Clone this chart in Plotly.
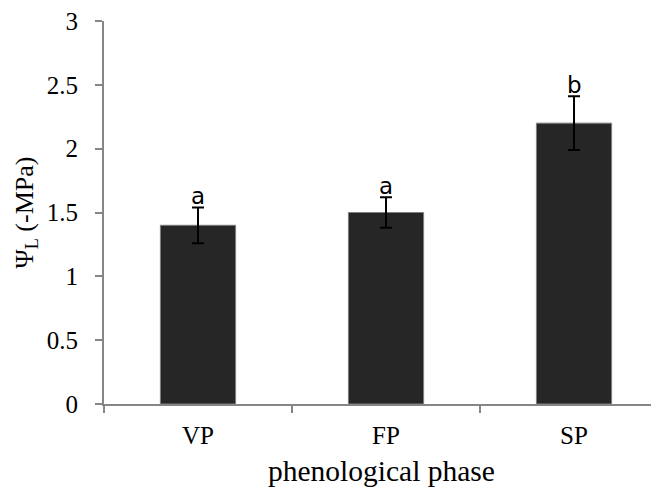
import plotly.graph_objects as go

categories = ["VP", "FP", "SP"]
values = [1.40, 1.50, 2.20]
errors = [0.14, 0.12, 0.21]
letters = ["a", "a", "b"]
y_ticks = [0, 0.5, 1, 1.5, 2, 2.5, 3]

fig = go.Figure()
fig.add_trace(go.Bar(
    x=categories, y=values,
    marker=dict(color="#262626", line=dict(color="#7f7f7f", width=1)),
    error_y=dict(type="data", array=errors, visible=True, color="black", thickness=2, width=6),
    showlegend=False,
))

for c, v, e, t in zip(categories, values, errors, letters):
    fig.add_annotation(x=c, y=v + e, text=t, showarrow=False, yanchor="bottom",
                       yshift=-4, font=dict(family="DejaVu Sans", size=23, color="black"))

axis_color = "#868686"
fig.update_layout(
    width=651, height=487,
    margin=dict(l=96, r=0, t=11, b=91),
    plot_bgcolor="white", paper_bgcolor="white",
    bargap=0.6,
    font=dict(family="Liberation Serif", color="black"),
    xaxis=dict(
        type="category", range=[-0.5, 2.452],
        showline=True, linecolor=axis_color, linewidth=2,
        ticks="outside", tickson="boundaries", ticklen=7, tickcolor=axis_color, tickwidth=2,
        tickfont=dict(size=25, family="Liberation Serif"),
        ticklabelstandoff=8, ticklabeloverflow="allow",
        title=dict(text="phenological phase", font=dict(size=29.5, family="Liberation Serif"), standoff=12),
        showgrid=False,
    ),
    yaxis=dict(
        range=[0, 3], tickvals=y_ticks,
        showline=True, linecolor=axis_color, linewidth=2,
        ticks="outside", ticklen=7, tickcolor=axis_color, tickwidth=2,
        tickfont=dict(size=25, family="Liberation Serif"),
        ticklabelstandoff=12, ticklabeloverflow="allow",
        title=dict(text="Ψ<sub>L</sub> (-MPa)", font=dict(size=26, family="Liberation Serif"), standoff=6),
        showgrid=False, zeroline=False,
    ),
)

fig.write_html("out.html")
